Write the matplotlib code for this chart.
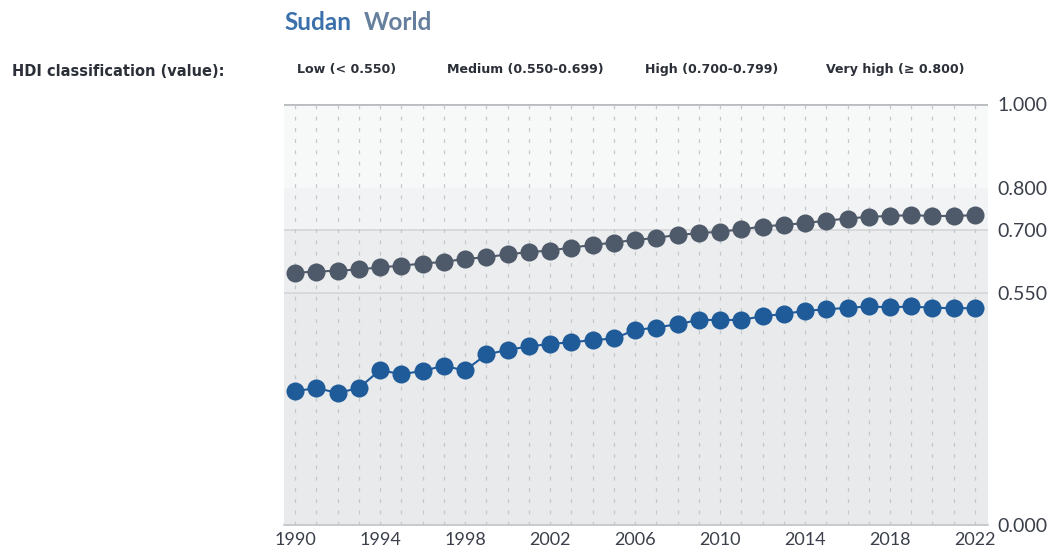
import matplotlib
matplotlib.use('Agg')
import matplotlib.pyplot as plt
import numpy as np

plt.rcParams['font.family'] = ['Lato', 'DejaVu Sans']

years = list(range(1990, 2023))
world_hdi = [0.599, 0.602, 0.604, 0.607, 0.612, 0.616, 0.621, 0.625, 0.632, 0.636,
             0.643, 0.648, 0.652, 0.659, 0.665, 0.671, 0.677, 0.682, 0.689, 0.693,
             0.697, 0.702, 0.709, 0.713, 0.717, 0.723, 0.728, 0.732, 0.734, 0.736,
             0.734, 0.734, 0.736]
sudan_hdi = [0.318, 0.325, 0.314, 0.325, 0.368, 0.358, 0.366, 0.378, 0.367, 0.405,
             0.416, 0.424, 0.430, 0.434, 0.439, 0.443, 0.463, 0.469, 0.477, 0.487,
             0.487, 0.487, 0.496, 0.501, 0.509, 0.512, 0.516, 0.519, 0.517, 0.519,
             0.516, 0.515, 0.515]

# HDI classification bands (lower, upper, fill colour)
band_edges = [0.0, 0.550, 0.700, 0.800, 1.000]
band_colors = ['#e9eaec', '#ecedef', '#f2f3f4', '#f7f8f8']
band_labels = ['Low (< 0.550)', 'Medium (0.550-0.699)', 'High (0.700-0.799)', 'Very high (≥ 0.800)']
ytick_vals = [0.0, 0.550, 0.700, 0.800, 1.000]

sudan_color = '#1f5b99'
world_color = '#4e5a69'

fig = plt.figure(figsize=(10.58, 5.5), dpi=100)
ax = fig.add_axes([0.2684, 0.0455, 0.6654, 0.7654])

for lo, hi, c in zip(band_edges[:-1], band_edges[1:], band_colors):
    ax.axhspan(lo, hi, color=c, zorder=0, lw=0)

for v in [0.550, 0.700]:
    ax.axhline(v, color='#d3d5d8', lw=1.2, zorder=1)
ax.axhline(1.0, color='#b9bdc1', lw=2, zorder=1)

for yr in years:
    ax.axvline(yr, color='#c4c7cb', lw=0.9, linestyle=(0, (3, 6)), zorder=1)

ax.plot(years, world_hdi, color=world_color, lw=1.5, marker='o', markersize=13,
        markeredgewidth=0, zorder=3)
ax.plot(years, sudan_hdi, color=sudan_color, lw=1.5, marker='o', markersize=13,
        markeredgewidth=0, zorder=3)

ax.set_xlim(1989.48, 2022.61)
ax.set_ylim(0, 1.0)
ax.set_xticks(range(1990, 2023, 4))
ax.set_yticks(ytick_vals)
ax.set_yticklabels([f'{v:.3f}' for v in ytick_vals])
ax.yaxis.tick_right()
ax.tick_params(axis='both', length=0, labelsize=13, colors='#3a3f4a')
ax.tick_params(axis='y', pad=7, labelsize=14)
ax.tick_params(axis='x', pad=5)

for s in ['top', 'left', 'right']:
    ax.spines[s].set_visible(False)
ax.spines['bottom'].set_color('#c0c3c7')
ax.spines['bottom'].set_linewidth(1.2)

# title legend
fig.text(284 / 1058, 1 - 23 / 550, 'Sudan', color='#3b70aa', fontsize=17.5,
         fontweight='bold', va='center', ha='left')
fig.text(364 / 1058, 1 - 23 / 550, 'World', color='#667f9c', fontsize=17.5,
         fontweight='bold', va='center', ha='left')

fig.text(12 / 1058, 1 - 72 / 550, 'HDI classification (value):', color='#2b2f38',
         fontsize=10.5, fontweight='bold', va='center', ha='left', family='DejaVu Sans')
label_x = [297, 447, 645, 826]
for lx, lab in zip(label_x, band_labels):
    fig.text(lx / 1058, 1 - 70 / 550, lab, color='#2b2f38', fontsize=9.1,
             fontweight='bold', va='center', ha='left', family='DejaVu Sans')

fig.savefig('out.png', dpi=100)
